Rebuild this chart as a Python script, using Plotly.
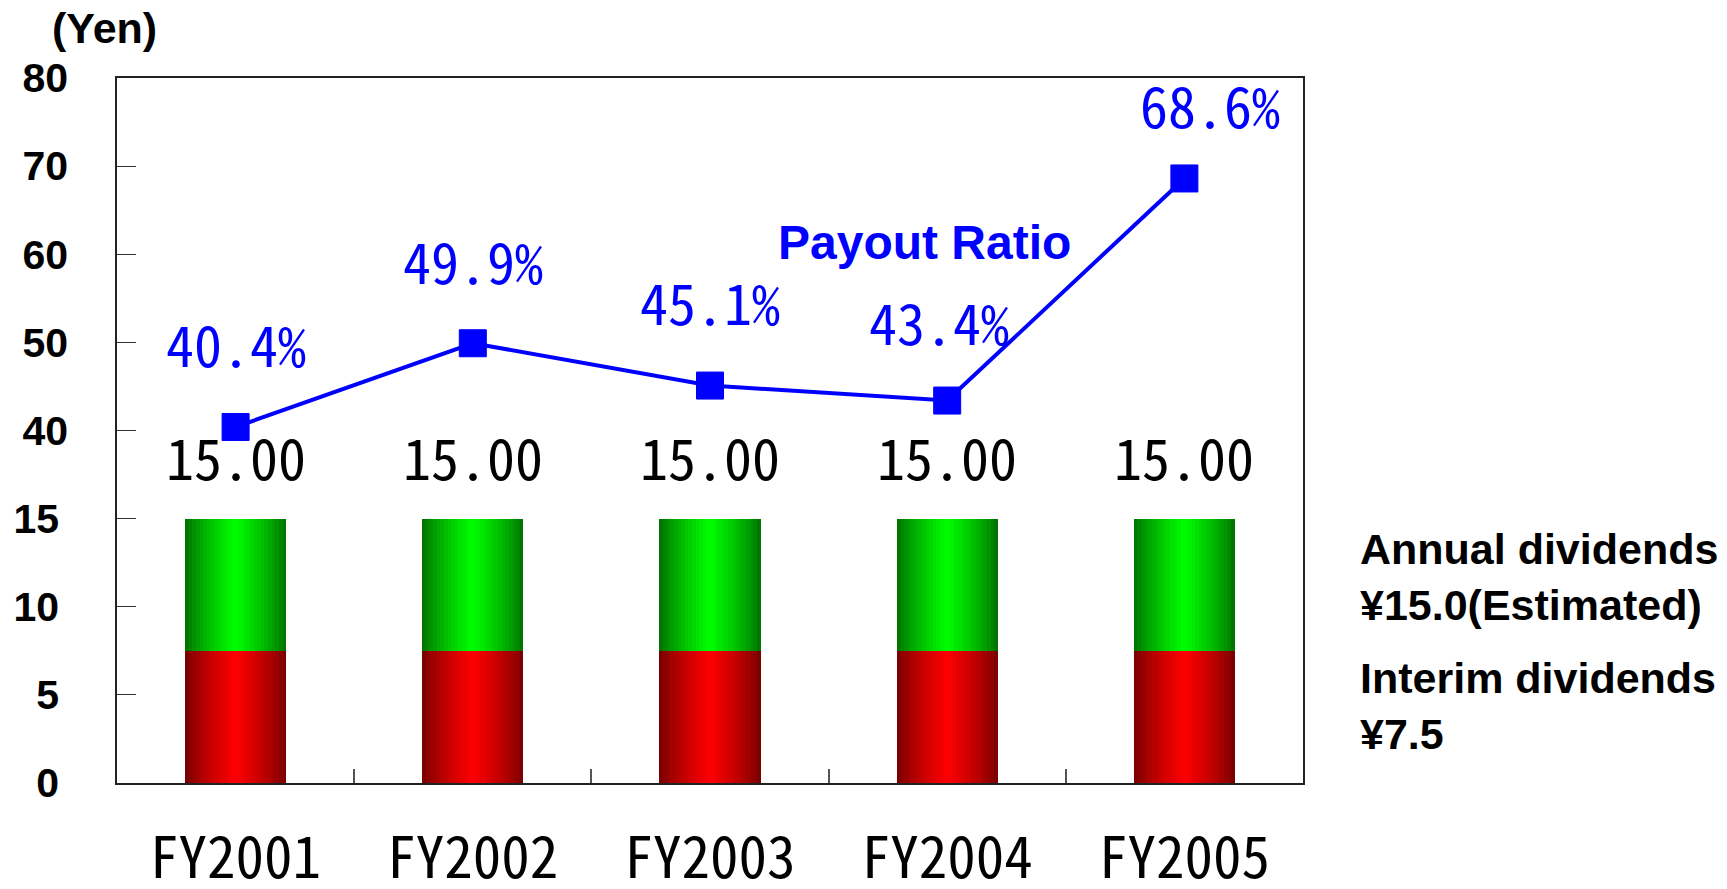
import plotly.graph_objects as go

# ---------------- data ----------------
years = ["FY2001", "FY2002", "FY2003", "FY2004", "FY2005"]
interim_div = [7.5, 7.5, 7.5, 7.5, 7.5]
yearend_div = [7.5, 7.5, 7.5, 7.5, 7.5]
payout_ratio = [40.4, 49.9, 45.1, 43.4, 68.6]
low_ticks = [0, 5, 10, 15]
high_ticks = [40, 50, 60, 70, 80]

# ---------------- layout geometry (page pixels) ----------------
PAGE_W, PAGE_H = 1727, 889
OFF = 8                       # default body margin of the html page
W, H = PAGE_W - OFF, PAGE_H - OFF
L, R, T, B = 117, 1303, 78, 783   # plot-area edges on the page
PW, PH = R - L, B - T


def px2x(px):
    return (px - L) / PW


def py2y(py):
    return (B - py) / PH


MONO = "Noto Sans Mono CJK JP, Liberation Mono, DejaVu Sans Mono, monospace"
SANS = "Liberation Sans, Arial, Helvetica, sans-serif"

fig = go.Figure()

# ---------------- gradient bars (drawn as thin vertical strips) ----------------
BAR_W = 0.426
N = 28
sw = BAR_W / N


def mix(c1, c2, f):
    return "rgb(%d,%d,%d)" % tuple(round(a + (b - a) * f) for a, b in zip(c1, c2))


red_dark, red_bright = (112, 0, 0), (255, 0, 0)
grn_dark, grn_bright = (0, 105, 0), (0, 255, 0)

totals = [a + b for a, b in zip(interim_div, yearend_div)]

for i in range(N):
    t = (i + 0.5) / N
    f = (1 - abs(2 * t - 1)) ** 0.75
    w = sw * 1.25 if i < N - 1 else sw
    off = -BAR_W / 2 + i * sw
    fig.add_trace(go.Bar(
        x=years, y=interim_div, base=[0] * len(years),
        width=w, offset=off,
        marker=dict(color=mix(red_dark, red_bright, f), line=dict(width=0)),
        showlegend=False, hoverinfo="skip", yaxis="y",
    ))
    fig.add_trace(go.Bar(
        x=years, y=yearend_div, base=interim_div,
        width=w, offset=off,
        marker=dict(color=mix(grn_dark, grn_bright, f), line=dict(width=0)),
        showlegend=False, hoverinfo="skip", yaxis="y",
    ))

# ---------------- payout ratio line ----------------
fig.add_trace(go.Scatter(
    x=years, y=payout_ratio, yaxis="y2", mode="lines+markers",
    line=dict(color="#0000FF", width=4),
    marker=dict(symbol="square", size=27, color="#0000FF",
                line=dict(color="#0000FF", width=1)),
    showlegend=False, hoverinfo="skip",
))

annotations = []

# total dividend labels above bars
for yr, tot in zip(years, totals):
    annotations.append(dict(
        x=yr, y=tot, xref="x", yref="y", text=f"{tot:.2f}",
        showarrow=False, yanchor="middle", yshift=63,
        font=dict(family=MONO, size=56, color="black"),
    ))

# payout ratio labels
label_shift = [(0, 84), (0, 84), (0, 85), (-8, 80), (26, 75)]
for (yr, v), (dx, dy) in zip(zip(years, payout_ratio), label_shift):
    annotations.append(dict(
        x=yr, y=v, xref="x", yref="y2", text=f"{v}%",
        showarrow=False, yanchor="middle", xshift=dx, yshift=dy,
        font=dict(family=MONO, size=56, color="#0000FF"),
    ))

annotations += [
    dict(x=px2x(924), y=py2y(242), xref="paper", yref="paper",
         text="Payout Ratio", showarrow=False,
         xanchor="center", yanchor="middle",
         font=dict(family=SANS, size=48, color="#0000FF", weight="bold")),
    dict(x=px2x(104), y=py2y(28), xref="paper", yref="paper",
         text="(Yen)", showarrow=False,
         xanchor="center", yanchor="middle",
         font=dict(family=SANS, size=43, color="black", weight="bold")),
    dict(x=px2x(1358), y=py2y(577), xref="paper", yref="paper",
         text="Annual dividends<br>¥15.0(Estimated)", showarrow=False,
         xanchor="left", yanchor="middle", align="left",
         font=dict(family=SANS, size=43, color="black", weight="bold")),
    dict(x=px2x(1358), y=py2y(706), xref="paper", yref="paper",
         text="Interim dividends<br>¥7.5", showarrow=False,
         xanchor="left", yanchor="middle", align="left",
         font=dict(family=SANS, size=43, color="black", weight="bold")),
]

axis_line = "#222222"
ytick_font = dict(family=SANS, size=41, color="black", weight="bold")

fig.update_layout(
    width=W, height=H, autosize=False,
    margin=dict(l=L - OFF, r=PAGE_W - R, t=T - OFF, b=PAGE_H - B,
                pad=0, autoexpand=False),
    paper_bgcolor="white", plot_bgcolor="white",
    barmode="overlay", bargap=0,
    showlegend=False,
    annotations=annotations,
    xaxis=dict(
        type="category", range=[-0.5, 4.5], automargin=False,
        showline=True, linecolor=axis_line, linewidth=1.5, mirror=True,
        ticks="inside", tickson="boundaries", ticklen=14, tickcolor="#555555",
        tickwidth=1.5,
        showgrid=False, zeroline=False,
        tickfont=dict(family=MONO, size=57, color="black"),
        ticklabelstandoff=25,
    ),
    yaxis=dict(
        range=[0, 40], tickvals=low_ticks, ticktext=[str(v) for v in low_ticks],
        automargin=False,
        showline=True, linecolor=axis_line, linewidth=1.5, mirror=True,
        ticks="inside", ticklen=19, tickcolor="#333333", tickwidth=1.2,
        showgrid=False, zeroline=False,
        tickfont=ytick_font,
        ticklabelstandoff=48,
    ),
    yaxis2=dict(
        range=[0, 80], tickvals=high_ticks, ticktext=[str(v) for v in high_ticks],
        overlaying="y", side="left", anchor="x", automargin=False,
        showline=False,
        ticks="inside", ticklen=19, tickcolor="#333333", tickwidth=1.2,
        showgrid=False, zeroline=False,
        tickfont=ytick_font,
        ticklabelstandoff=48,
    ),
)

fig.write_html("out.html")
